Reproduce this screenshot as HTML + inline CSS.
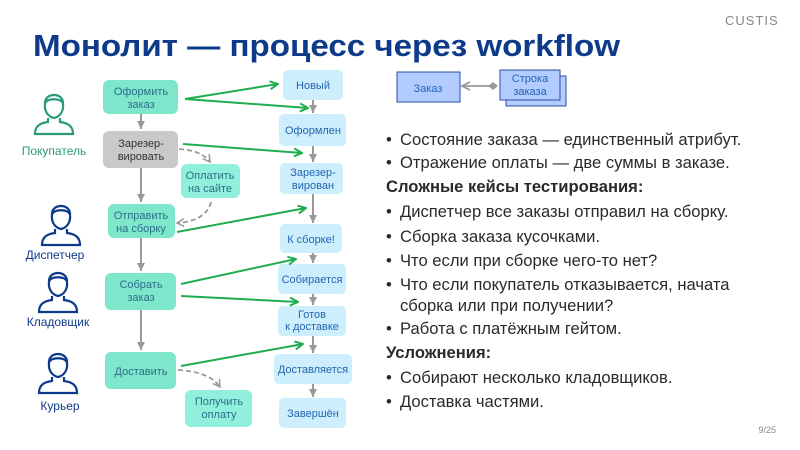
<!DOCTYPE html>
<html><head><meta charset="utf-8"><style>
html,body{margin:0;padding:0;background:#fff;}
svg{display:block;font-family:"Liberation Sans",sans-serif;}
</style></head><body>
<svg width="800" height="450" viewBox="0 0 800 450" xmlns="http://www.w3.org/2000/svg">
<defs>
<marker id="ga" markerWidth="10" markerHeight="10" refX="9" refY="5" orient="auto" markerUnits="userSpaceOnUse"><path d="M1,1 L9,5 L1,9" fill="none" stroke="#1fae4f" stroke-width="2"/></marker>
<marker id="gr" markerWidth="10" markerHeight="10" refX="8" refY="5" orient="auto" markerUnits="userSpaceOnUse"><path d="M0,1 L8,5 L0,9 Z" fill="#999"/></marker>
<marker id="gl" markerWidth="10" markerHeight="10" refX="8" refY="5" orient="auto" markerUnits="userSpaceOnUse"><path d="M1,1 L8,5 L1,9" fill="none" stroke="#999" stroke-width="1.5"/></marker>
<g id="person" fill="none" stroke-width="2.2">
<path d="M-9,-8 C-10,-20 10,-20 9,-8 C10,0 5,5 0,6 C-5,5 -10,0 -9,-8 Z"/>
<path d="M-9,-9 C-6,-14 6,-14 9,-9"/>
<path d="M-6,6 L-6,10 C-14,11 -19,14 -19,22 L19,22 C19,14 14,11 6,10 L6,6"/>
</g>
</defs>

<text x="725" y="25" font-size="13" fill="#888" letter-spacing="1">CUSTIS</text>
<text x="33" y="56" font-size="31" font-weight="bold" fill="#0d3a8a" textLength="587" lengthAdjust="spacingAndGlyphs">Монолит — процесс через workflow</text>

<!-- persons -->
<use href="#person" x="54" y="112" stroke="#2a9a7a"/>
<text x="54" y="155" font-size="12" fill="#2a9a7a" text-anchor="middle">Покупатель</text>
<use href="#person" x="61" y="223" stroke="#0d3a8a"/>
<text x="55" y="259" font-size="12" fill="#0d3a8a" text-anchor="middle">Диспетчер</text>
<use href="#person" x="58" y="290" stroke="#0d3a8a"/>
<text x="58" y="326" font-size="12" fill="#0d3a8a" text-anchor="middle">Кладовщик</text>
<use href="#person" x="58" y="371" stroke="#0d3a8a"/>
<text x="60" y="410" font-size="12" fill="#0d3a8a" text-anchor="middle">Курьер</text>

<!-- gray vertical arrows -->
<g stroke="#999" stroke-width="2" marker-end="url(#gr)">
<line x1="141" y1="113" x2="141" y2="129"/>
<line x1="141" y1="167" x2="141" y2="202"/>
<line x1="141" y1="238" x2="141" y2="271"/>
<line x1="141" y1="310" x2="141" y2="350"/>
<line x1="313" y1="99" x2="313" y2="113"/>
<line x1="313" y1="146" x2="313" y2="162"/>
<line x1="313" y1="193" x2="313" y2="223"/>
<line x1="313" y1="253" x2="313" y2="263"/>
<line x1="313" y1="294" x2="313" y2="305"/>
<line x1="313" y1="336" x2="313" y2="353"/>
<line x1="313" y1="384" x2="313" y2="397"/>
</g>

<!-- action boxes -->
<g font-size="11" text-anchor="middle">
<rect x="103" y="80" width="75" height="34" rx="6" fill="#7ee6cb"/>
<text x="141" y="95" fill="#2d6e8a">Оформить</text><text x="141" y="108" fill="#2d6e8a">заказ</text>
<rect x="103" y="131" width="75" height="37" rx="6" fill="#c9c9c9"/>
<text x="141" y="147" fill="#333">Зарезер-</text><text x="141" y="160" fill="#333">вировать</text>
<rect x="181" y="164" width="59" height="34" rx="6" fill="#90f0dc"/>
<text x="210" y="179" fill="#2d6e8a">Оплатить</text><text x="210" y="192" fill="#2d6e8a">на сайте</text>
<rect x="108" y="204" width="67" height="34" rx="6" fill="#7ee6cb"/>
<text x="141" y="219" fill="#2d6e8a">Отправить</text><text x="141" y="232" fill="#2d6e8a">на сборку</text>
<rect x="105" y="273" width="71" height="37" rx="6" fill="#7ee6cb"/>
<text x="141" y="288" fill="#2d6e8a">Собрать</text><text x="141" y="301" fill="#2d6e8a">заказ</text>
<rect x="105" y="352" width="71" height="37" rx="6" fill="#7ee6cb"/>
<text x="141" y="375" fill="#2d6e8a">Доставить</text>
<rect x="185" y="390" width="67" height="37" rx="6" fill="#90f0dc"/>
<text x="219" y="405" fill="#2d6e8a">Получить</text><text x="219" y="418" fill="#2d6e8a">оплату</text>
</g>

<!-- state boxes -->
<g fill="#cdeefc">
<rect x="283" y="70" width="60" height="30" rx="5"/>
<rect x="279" y="114" width="67" height="32" rx="5"/>
<rect x="280" y="163" width="63" height="31" rx="5"/>
<rect x="280" y="224" width="62" height="29" rx="5"/>
<rect x="278" y="264" width="68" height="30" rx="5"/>
<rect x="278" y="306" width="68" height="30" rx="5"/>
<rect x="274" y="354" width="78" height="30" rx="5"/>
<rect x="279" y="398" width="67" height="30" rx="5"/>
</g>
<g font-size="11" text-anchor="middle" fill="#2466b0">
<text x="313" y="89">Новый</text>
<text x="313" y="134">Оформлен</text>
<text x="313" y="176">Зарезер-</text><text x="313" y="189">вирован</text>
<text x="311" y="243">К сборке!</text>
<text x="312" y="283">Собирается</text>
<text x="312" y="318">Готов</text><text x="312" y="330">к доставке</text>
<text x="313" y="373">Доставляется</text>
<text x="313" y="417">Завершён</text>
</g>

<!-- green arrows -->
<g stroke="#1fae4f" stroke-width="2" fill="none" marker-end="url(#ga)">
<line x1="185" y1="99" x2="278" y2="84"/>
<line x1="185" y1="99" x2="308" y2="108"/>
<line x1="183" y1="144" x2="302" y2="153"/>
<line x1="177" y1="232" x2="306" y2="208"/>
<line x1="181" y1="284" x2="296" y2="259"/>
<line x1="181" y1="296" x2="298" y2="302"/>
<line x1="181" y1="366" x2="303" y2="344"/>
</g>

<!-- dashed -->
<g stroke="#999" stroke-width="1.8" fill="none" stroke-dasharray="5,3" marker-end="url(#gl)">
<path d="M179,149 C195,150 205,155 210,162"/>
<path d="M211,202 C208,215 195,222 177,223"/>
<path d="M178,370 C195,371 212,375 220,387"/>
</g>

<!-- class diagram -->
<rect x="397" y="72" width="63" height="30" fill="#b3ccff" stroke="#2b4ea0" stroke-width="1"/>
<text x="428" y="92" font-size="11" fill="#2466b0" text-anchor="middle">Заказ</text>
<rect x="506" y="76" width="60" height="30" fill="#b3ccff" stroke="#2b4ea0" stroke-width="1"/>
<rect x="500" y="70" width="60" height="30" fill="#b3ccff" stroke="#2b4ea0" stroke-width="1"/>
<text x="530" y="82" font-size="11" fill="#2466b0" text-anchor="middle">Строка</text>
<text x="530" y="95" font-size="11" fill="#2466b0" text-anchor="middle">заказа</text>
<line x1="462" y1="86" x2="492" y2="86" stroke="#999" stroke-width="1.8"/>
<path d="M470,82 L462,86 L470,90" fill="none" stroke="#999" stroke-width="1.8"/>
<path d="M488,86 L493,82 L498,86 L493,90 Z" fill="#999"/>

<!-- bullets -->
<g font-size="16.6" fill="#2a2a2a">
<text x="386" y="145">•</text><text x="400" y="145">Состояние заказа — единственный атрибут.</text>
<text x="386" y="168">•</text><text x="400" y="168">Отражение оплаты — две суммы в заказе.</text>
<text x="386" y="192" font-weight="bold">Сложные кейсы тестирования:</text>
<text x="386" y="217">•</text><text x="400" y="217">Диспетчер все заказы отправил на сборку.</text>
<text x="386" y="242">•</text><text x="400" y="242">Сборка заказа кусочками.</text>
<text x="386" y="266">•</text><text x="400" y="266">Что если при сборке чего-то нет?</text>
<text x="386" y="290">•</text><text x="400" y="290">Что если покупатель отказывается, начата</text>
<text x="400" y="311">сборка или при получении?</text>
<text x="386" y="334">•</text><text x="400" y="334">Работа с платёжным гейтом.</text>
<text x="386" y="358" font-weight="bold">Усложнения:</text>
<text x="386" y="383">•</text><text x="400" y="383">Собирают несколько кладовщиков.</text>
<text x="386" y="407">•</text><text x="400" y="407">Доставка частями.</text>
</g>
<text x="776" y="433" font-size="9" fill="#888" text-anchor="end">9/25</text>
</svg>
</body></html>
